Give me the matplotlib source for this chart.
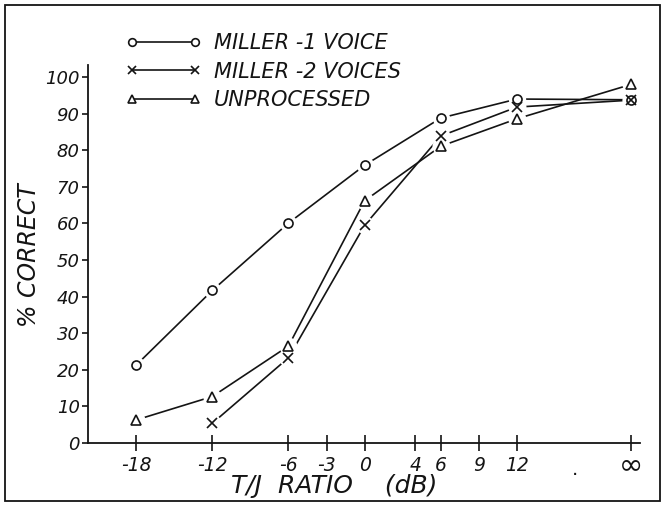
import numpy as np
import matplotlib
matplotlib.use('Agg')
import matplotlib.pyplot as plt
from matplotlib.lines import Line2D
from matplotlib.patches import Rectangle

# ---------------- data ----------------
tj_db = [-18, -12, -6, 0, 6, 12, np.inf]
miller1 = [21.3, 41.7, 60.1, 75.9, 88.8, 94.0, 93.8]
miller2_db = [-12, -6, 0, 6, 12, np.inf]
miller2 = [5.4, 23.3, 59.5, 83.9, 91.8, 93.7]
unproc = [6.3, 12.7, 26.5, 66.2, 81.1, 88.6, 98.0]

xtick_db = [-18, -12, -6, -3, 0, 4, 6, 9, 12, np.inf]
xtick_labels = ['-18', '-12', '-6', '-3', '0', '4', '6', '9', '12', '∞']
ytick_vals = [0, 10, 20, 30, 40, 50, 60, 70, 80, 90, 100]
ytick_labels = ['0', '10', '20', '30', '40', '50', '60', '70', '80', '90', '100']
series_labels = ['MILLER -1 VOICE', 'MILLER -2 VOICES', 'UNPROCESSED']
x_title = 'T/J  RATIO    (dB)'
y_title = '% CORRECT'

# ---------------- layout ----------------
X_INF = 21.0     # where the "infinity" column sits on the dB axis
X_DOT = 16.6     # the stray "." between 12 and infinity
INK = '#141414'
W, H = 662, 508

def xpos(vals):
    return [X_INF if np.isinf(v) else v for v in vals]

plt.rcParams['font.family'] = ['DejaVu Sans']
fig = plt.figure(figsize=(W / 100, H / 100), dpi=100)
fig.patch.set_facecolor('white')

ax = fig.add_axes([88 / W, 1 - 443 / H, (640 - 88) / W, (443 - 65) / H])
ax.set_xlim(-21.8, 21.7)
ax.set_ylim(0, 103.3)
for s in ['top', 'right']:
    ax.spines[s].set_visible(False)
for s in ['left', 'bottom']:
    ax.spines[s].set_color(INK)
    ax.spines[s].set_linewidth(1.3)

lw = 1.2
mew = 1.2
series = [
    (xpos(tj_db), miller1, 'o', 6.5),
    (xpos(miller2_db), miller2, 'x', 7.0),
    (xpos(tj_db), unproc, '^', 7.0),
]
handles = []
for (xs, ys, mk, ms), lab in zip(series, series_labels):
    ax.plot(xs, ys, '-', color=INK, lw=lw, zorder=2, clip_on=False)
    ax.plot(xs, ys, 'o', ls='none', ms=ms + 6, mfc='white', mec='none',
            zorder=3, clip_on=False)
    ax.plot(xs, ys, mk, ls='none', ms=ms, mfc='white', mec=INK, mew=mew,
            zorder=4, clip_on=False)
    handles.append(Line2D([], [], color=INK, lw=lw, marker=mk, ms=ms - 1,
                          mfc='white', mec=INK, mew=mew))

ax.set_xticks(xpos(xtick_db))
ax.set_xticklabels(xtick_labels[:-1] + [''], fontsize=13.5, style='italic',
                   color=INK)
ax.text(X_INF, -6.0, xtick_labels[-1], fontsize=21, ha='center',
        va='center', color=INK)
ax.tick_params(axis='x', direction='inout', length=11, width=1.2, pad=4,
               color=INK)
ax.set_yticks(ytick_vals)
ax.set_yticklabels(ytick_labels, fontsize=13, style='italic', color=INK)
ax.tick_params(axis='y', direction='out', length=4, width=1.2, pad=2,
               color=INK)
ax.text(X_DOT, -7.3, '.', fontsize=14, ha='center', va='center', color=INK)

fig.text(334 / W, 1 - 486 / H, x_title, fontsize=18, style='italic',
         ha='center', va='center', color=INK)
fig.text(29 / W, 1 - 255 / H, y_title, fontsize=17, style='italic',
         rotation=90, ha='center', va='center', color=INK)

leg = ax.legend(handles, series_labels, numpoints=2, frameon=False,
                loc='upper left', bbox_to_anchor=(126 / W, 1 - 33 / H),
                bbox_transform=fig.transFigure, borderpad=0,
                borderaxespad=0, handlelength=3.6, handletextpad=0.6,
                labelspacing=0.42, prop={'size': 15, 'style': 'italic'})
for t in leg.get_texts():
    t.set_color(INK)

fig.add_artist(Rectangle((5 / W, 1 - 501 / H), (660 - 5) / W, (501 - 5) / H,
                         transform=fig.transFigure, fill=False,
                         edgecolor=INK, lw=1.3))

fig.savefig('out.png', dpi=100, facecolor='white')
